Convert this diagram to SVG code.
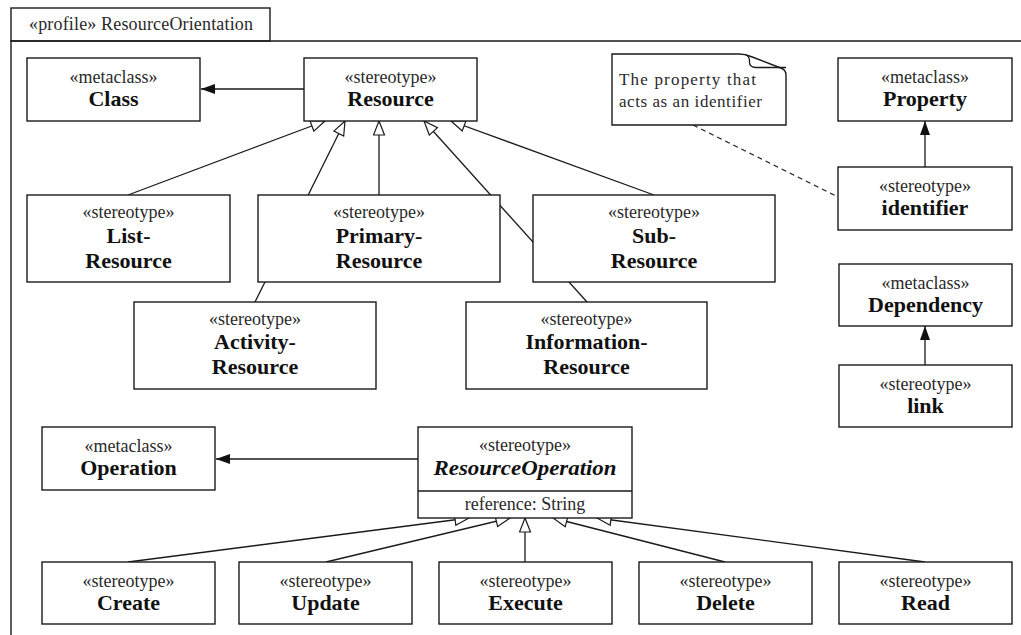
<svg xmlns="http://www.w3.org/2000/svg" width="1021" height="635" viewBox="0 0 1021 635">
  <style>
    .box { fill: #fff; stroke: #1a1a1a; stroke-width: 1.4; }
    .frame { fill: none; stroke: #1a1a1a; stroke-width: 1.4; }
    .line { fill: none; stroke: #1a1a1a; stroke-width: 1.3; }
    .dash { fill: none; stroke: #1a1a1a; stroke-width: 1.2; stroke-dasharray: 5 4; }
    text { font-family: 'Liberation Serif', 'DejaVu Serif', serif; }
    .st { font-size: 18px; fill: #2a2a2a; text-anchor: middle; }
    .nm { font-size: 22px; font-weight: bold; fill: #111; text-anchor: middle; }
    .nmi { font-size: 22px; font-weight: bold; font-style: italic; fill: #111; text-anchor: middle; }
    .tx { font-size: 18px; fill: #2a2a2a; }
    .note { font-size: 17px; fill: #2a2a2a; }
  </style>
  <defs>
    <marker id="gen" viewBox="0 0 16 13" refX="15" refY="6.5" markerWidth="16" markerHeight="13" markerUnits="userSpaceOnUse" orient="auto">
      <path d="M1,1 L15,6.5 L1,12 Z" fill="#fff" stroke="#1a1a1a" stroke-width="1.2"/>
    </marker>
    <marker id="ext" viewBox="0 0 15 12" refX="14" refY="6" markerWidth="15" markerHeight="12" markerUnits="userSpaceOnUse" orient="auto">
      <path d="M0,1 L14,6 L0,11 Z" fill="#111"/>
    </marker>
  </defs>

  <!-- profile package frame -->
  <g id="profile-frame">
    <path class="frame" d="M11,635 V41 H1021"/>
    <rect class="frame" x="11" y="8" width="259" height="33"/>
    <text class="tx" x="29" y="30" textLength="224" lengthAdjust="spacing">«profile» ResourceOrientation</text>
  </g>

  <!-- connectors (drawn under the boxes) -->
  <g id="connectors">
    <line class="line" x1="304" y1="89" x2="201" y2="89" marker-end="url(#ext)"/>
    <line class="line" x1="128" y1="195" x2="325" y2="121" marker-end="url(#gen)"/>
    <line class="line" x1="255" y1="302" x2="345" y2="121" marker-end="url(#gen)"/>
    <line class="line" x1="379" y1="195" x2="379" y2="121" marker-end="url(#gen)"/>
    <line class="line" x1="587" y1="302" x2="424" y2="121" marker-end="url(#gen)"/>
    <line class="line" x1="654" y1="195" x2="451" y2="121" marker-end="url(#gen)"/>
    <line class="dash" x1="693" y1="125" x2="838" y2="197"/>
    <line class="line" x1="925" y1="167" x2="925" y2="121" marker-end="url(#ext)"/>
    <line class="line" x1="925" y1="365" x2="925" y2="326" marker-end="url(#ext)"/>
    <line class="line" x1="418" y1="459" x2="216" y2="459" marker-end="url(#ext)"/>
    <line class="line" x1="128" y1="562" x2="469" y2="518" marker-end="url(#gen)"/>
    <line class="line" x1="326" y1="562" x2="510" y2="518" marker-end="url(#gen)"/>
    <line class="line" x1="525" y1="562" x2="525" y2="518" marker-end="url(#gen)"/>
    <line class="line" x1="725" y1="562" x2="553" y2="518" marker-end="url(#gen)"/>
    <line class="line" x1="925" y1="562" x2="597" y2="518" marker-end="url(#gen)"/>
  </g>

  <g id="class">
    <rect class="box" x="27" y="58" width="173" height="63"/>
    <text class="st" x="113.5" y="83">«metaclass»</text>
    <text class="nm" x="113.5" y="106">Class</text>
  </g>
  <g id="resource">
    <rect class="box" x="304" y="58" width="173" height="63"/>
    <text class="st" x="390.5" y="83">«stereotype»</text>
    <text class="nm" x="390.5" y="106">Resource</text>
  </g>
  <g id="note">
    <path class="box" d="M612,54 H739 Q745,54 751,56.5 L782,68.5 Q786,70.5 786,75 V125 H612 Z"/>
    <path class="line" d="M745,54.5 Q749.5,56 749.5,61 V62 Q749.5,67.5 756,67.5 H786"/>
    <text class="note" x="619" y="85" textLength="137" lengthAdjust="spacing">The property that</text>
    <text class="note" x="619" y="107" textLength="143" lengthAdjust="spacing">acts as an identifier</text>
  </g>
  <g id="property">
    <rect class="box" x="838" y="58" width="174" height="63"/>
    <text class="st" x="925" y="83">«metaclass»</text>
    <text class="nm" x="925" y="106">Property</text>
  </g>
  <g id="identifier">
    <rect class="box" x="838" y="167" width="174" height="63"/>
    <text class="st" x="925" y="192">«stereotype»</text>
    <text class="nm" x="925" y="215">identifier</text>
  </g>
  <g id="list-resource">
    <rect class="box" x="27" y="195" width="203" height="87"/>
    <text class="st" x="128.5" y="218">«stereotype»</text>
    <text class="nm" x="128.5" y="243">List-</text>
    <text class="nm" x="128.5" y="268">Resource</text>
  </g>
  <g id="primary-resource">
    <rect class="box" x="258" y="195" width="242" height="87"/>
    <text class="st" x="379" y="218">«stereotype»</text>
    <text class="nm" x="379" y="243">Primary-</text>
    <text class="nm" x="379" y="268">Resource</text>
  </g>
  <g id="sub-resource">
    <rect class="box" x="533" y="195" width="242" height="87"/>
    <text class="st" x="654" y="218">«stereotype»</text>
    <text class="nm" x="654" y="243">Sub-</text>
    <text class="nm" x="654" y="268">Resource</text>
  </g>
  <g id="activity-resource">
    <rect class="box" x="134" y="302" width="242" height="87"/>
    <text class="st" x="255" y="325">«stereotype»</text>
    <text class="nm" x="255" y="349">Activity-</text>
    <text class="nm" x="255" y="374">Resource</text>
  </g>
  <g id="information-resource">
    <rect class="box" x="466" y="302" width="241" height="87"/>
    <text class="st" x="586.5" y="325">«stereotype»</text>
    <text class="nm" x="586.5" y="349">Information-</text>
    <text class="nm" x="586.5" y="374">Resource</text>
  </g>
  <g id="dependency">
    <rect class="box" x="839" y="264" width="173" height="62"/>
    <text class="st" x="925.5" y="289">«metaclass»</text>
    <text class="nm" x="925.5" y="312">Dependency</text>
  </g>
  <g id="link">
    <rect class="box" x="839" y="365" width="173" height="62"/>
    <text class="st" x="925.5" y="390">«stereotype»</text>
    <text class="nm" x="925.5" y="413">link</text>
  </g>
  <g id="operation">
    <rect class="box" x="42" y="427" width="173" height="63"/>
    <text class="st" x="128.5" y="452">«metaclass»</text>
    <text class="nm" x="128.5" y="475">Operation</text>
  </g>
  <g id="resource-operation">
    <rect class="box" x="418" y="427" width="214" height="91"/>
    <line class="line" x1="418" y1="491" x2="632" y2="491"/>
    <text class="st" x="525" y="451">«stereotype»</text>
    <text class="nmi" x="525" y="475" textLength="183" lengthAdjust="spacingAndGlyphs">ResourceOperation</text>
    <text class="tx" x="525" y="510" text-anchor="middle">reference: String</text>
  </g>
  <g id="create">
    <rect class="box" x="42" y="562" width="173" height="62"/>
    <text class="st" x="128.5" y="587">«stereotype»</text>
    <text class="nm" x="128.5" y="610">Create</text>
  </g>
  <g id="update">
    <rect class="box" x="239" y="562" width="173" height="62"/>
    <text class="st" x="325.5" y="587">«stereotype»</text>
    <text class="nm" x="325.5" y="610">Update</text>
  </g>
  <g id="execute">
    <rect class="box" x="439" y="562" width="173" height="62"/>
    <text class="st" x="525.5" y="587">«stereotype»</text>
    <text class="nm" x="525.5" y="610">Execute</text>
  </g>
  <g id="delete">
    <rect class="box" x="639" y="562" width="173" height="62"/>
    <text class="st" x="725.5" y="587">«stereotype»</text>
    <text class="nm" x="725.5" y="610">Delete</text>
  </g>
  <g id="read">
    <rect class="box" x="839" y="562" width="173" height="62"/>
    <text class="st" x="925.5" y="587">«stereotype»</text>
    <text class="nm" x="925.5" y="610">Read</text>
  </g>
</svg>
